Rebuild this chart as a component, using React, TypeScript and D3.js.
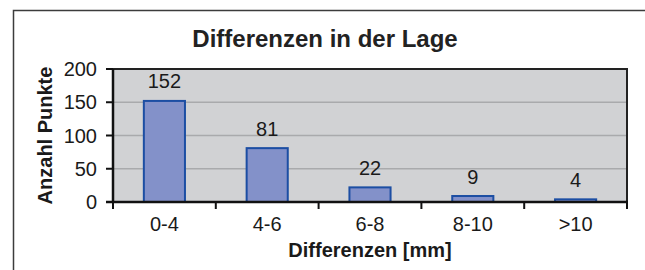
import React, { useEffect } from 'react';
import * as d3 from 'd3';

const categories = ['0-4', '4-6', '6-8', '8-10', '>10'];
const counts = [152, 81, 22, 9, 4];
const yTicks = [0, 50, 100, 150, 200];

const title = 'Differenzen in der Lage';
const xTitle = 'Differenzen [mm]';
const yTitle = 'Anzahl Punkte';

const width = 645;
const height = 270;
const plot = { left: 113, right: 627, top: 69, bottom: 202 };
const font = '"Liberation Sans", Arial, sans-serif';

export default function App() {
  useEffect(() => {
    document.documentElement.style.overflow = 'hidden';
    document.body.style.margin = '0';
    document.body.style.overflow = 'hidden';
  }, []);

  const x = d3.scaleBand<string>()
    .domain(categories)
    .range([plot.left, plot.right])
    .paddingInner(0.6)
    .paddingOuter(0.3);

  const y = d3.scaleLinear()
    .domain([0, 200])
    .range([plot.bottom, plot.top]);

  const step = x.step();
  // category boundaries for the tick marks on the x axis
  const boundaries = d3.range(categories.length + 1).map(i => plot.left + i * step);

  return (
    <svg
      width={width}
      height={height}
      style={{ position: 'fixed', left: 0, top: 0, display: 'block', background: '#fff' }}
      fontFamily={font}
    >
      {/* outer frame */}
      <path d={`M13.5,${height} V10.5 H${width}`} fill="none" stroke="#3c3c3c" strokeWidth={1.5} />

      <text x={325} y={46.5} textAnchor="middle" fontSize={24} fontWeight="bold" fill="#222">
        {title}
      </text>

      {/* plot area */}
      <rect
        x={plot.left}
        y={plot.top}
        width={plot.right - plot.left}
        height={plot.bottom - plot.top}
        fill="#d1d2d4"
      />
      {yTicks.filter(t => t > 0 && t < 200).map(t => (
        <line key={t} x1={plot.left} x2={plot.right} y1={y(t)} y2={y(t)} stroke="#a9aaac" strokeWidth={1.5} />
      ))}
      <path
        d={`M${plot.left},${plot.top} H${plot.right} V${plot.bottom}`}
        fill="none"
        stroke="#222"
        strokeWidth={2}
      />

      {/* bars */}
      {categories.map((c, i) => (
        <rect
          key={c}
          x={x(c)}
          y={y(counts[i])}
          width={x.bandwidth()}
          height={y(0) - y(counts[i])}
          fill="#8391c9"
          stroke="#1c4ea3"
          strokeWidth={2}
        />
      ))}
      {categories.map((c, i) => (
        <text
          key={c}
          x={(x(c) ?? 0) + x.bandwidth() / 2}
          y={y(counts[i]) - 12.5}
          textAnchor="middle"
          fontSize={20}
          fill="#1a1a1a"
        >
          {counts[i]}
        </text>
      ))}

      {/* y axis */}
      <line x1={plot.left} x2={plot.left} y1={plot.top} y2={plot.bottom} stroke="#111" strokeWidth={2.5} />
      {yTicks.map(t => (
        <g key={t}>
          <line x1={plot.left - 7} x2={plot.left} y1={y(t)} y2={y(t)} stroke="#111" strokeWidth={2} />
          <text x={97} y={y(t)} dy="0.35em" textAnchor="end" fontSize={20} fill="#1a1a1a">
            {t}
          </text>
        </g>
      ))}

      {/* x axis */}
      <line x1={plot.left - 7} x2={plot.right + 1} y1={plot.bottom} y2={plot.bottom} stroke="#111" strokeWidth={2.5} />
      {boundaries.map((b, i) => (
        <line key={i} x1={b} x2={b} y1={plot.bottom} y2={plot.bottom + 7} stroke="#111" strokeWidth={2} />
      ))}
      {categories.map(c => (
        <text
          key={c}
          x={(x(c) ?? 0) + x.bandwidth() / 2}
          y={231}
          textAnchor="middle"
          fontSize={20}
          fill="#1a1a1a"
        >
          {c}
        </text>
      ))}

      <text x={370} y={256.5} textAnchor="middle" fontSize={20} fontWeight="bold" fill="#1a1a1a">
        {xTitle}
      </text>
      <text
        transform={`translate(51.5,${(plot.top + plot.bottom) / 2}) rotate(-90)`}
        textAnchor="middle"
        fontSize={20}
        fontWeight="bold"
        fill="#1a1a1a"
      >
        {yTitle}
      </text>
    </svg>
  );
}
